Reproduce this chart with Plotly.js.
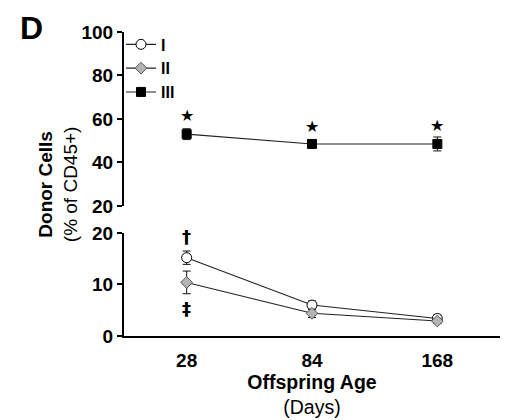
<!DOCTYPE html>
<html>
<head>
<meta charset="utf-8">
<script src="https://cdn.plot.ly/plotly-3.0.1.min.js"></script>
<style>
html,body{margin:0;padding:0;background:#fff;}
#chart{width:508px;height:420px;}
</style>
</head>
<body>
<div id="chart"></div>
<script>
// Data
var ages = ['28', '84', '168'];
var groupNames = ['I', 'II', 'III'];
var groupI = [15.2, 6.0, 3.4];
var groupIErr = [1.3, 0.8, 0.7];
var groupII = [10.4, 4.4, 2.9];
var groupIIErr = [2.2, 0.8, 0.5];
var groupIII = [53.0, 48.5, 48.5];
var groupIIIErr = [2.5, 1.4, 3.2];
// significance marks
var starY = [61.8, 56.3, 57.2];
var daggerY = 19.4;
var ddaggerY = 5.4;

var FONT = 'Liberation Sans, Arial, sans-serif';

function trace(y, err, name, yaxis, marker) {
  return {
    x: ages, y: y, name: name, yaxis: yaxis, type: 'scatter', mode: 'lines+markers',
    line: {color: '#222', width: 1.1},
    marker: marker,
    error_y: {type: 'data', array: err, visible: true, color: '#111', thickness: 1, width: 4},
    cliponaxis: false
  };
}

var data = [
  trace(groupI, groupIErr, groupNames[0], 'y', {symbol: 'circle', size: 10, color: '#fff', line: {color: '#000', width: 1}}),
  trace(groupII, groupIIErr, groupNames[1], 'y', {symbol: 'diamond', size: 9, color: '#b4b4b4', line: {color: '#555', width: 1}}),
  trace(groupIII, groupIIIErr, groupNames[2], 'y2', {symbol: 'square', size: 9, color: '#000', line: {color: '#000', width: 1}})
];

var annotations = [];
ages.forEach(function (a, i) {
  annotations.push({x: i, y: starY[i], xref: 'x', yref: 'y2', text: '★', showarrow: false,
    xanchor: 'center', yanchor: 'middle',
    font: {family: 'DejaVu Sans', size: 16, color: '#000'}});
});
annotations.push({x: 0, y: daggerY, xref: 'x', yref: 'y', text: '<b>†</b>', showarrow: false,
  xanchor: 'center', yanchor: 'middle', font: {family: 'DejaVu Sans', size: 18, color: '#000'}});
annotations.push({x: 0, y: ddaggerY, xref: 'x', yref: 'y', text: '<b>‡</b>', showarrow: false,
  xanchor: 'center', yanchor: 'middle', font: {family: 'DejaVu Sans', size: 18, color: '#000'}});
annotations.push({x: -0.175, y: 0.5, xref: 'paper', yref: 'paper', textangle: -90,
  xanchor: 'center', yanchor: 'middle',
  text: '<b>Donor Cells</b><br>(% of CD45+)', showarrow: false,
  font: {family: FONT, size: 19, color: '#000'}});
annotations.push({x: -0.247, y: 1.013, xref: 'paper', yref: 'paper',
  xanchor: 'center', yanchor: 'middle',
  text: '<b>D</b>', showarrow: false, font: {family: FONT, size: 32, color: '#000'}});

var axisCommon = {
  showline: true, linecolor: '#000', linewidth: 2, showgrid: false, zeroline: false,
  ticks: 'outside', ticklen: 5, tickwidth: 2, tickcolor: '#000',
  tickfont: {family: FONT, size: 19, color: '#000', weight: 'bold'}
};

var layout = {
  width: 508, height: 420,
  margin: {l: 124, r: 8, t: 32, b: 84},
  paper_bgcolor: '#fff', plot_bgcolor: '#fff',
  showlegend: true,
  legend: {x: -0.008, y: 1.015, xanchor: 'left', yanchor: 'top', bgcolor: 'rgba(0,0,0,0)',
    font: {family: FONT, size: 16, color: '#000', weight: 'bold'}, tracegroupgap: 0},
  xaxis: {
    type: 'category', range: [-0.5, 2.5], anchor: 'y',
    showline: true, linecolor: '#000', linewidth: 2, showgrid: false, zeroline: false,
    ticks: 'outside', ticklen: 6, tickcolor: 'rgba(0,0,0,0)',
    tickfont: {family: FONT, size: 19, color: '#000', weight: 'bold'},
    title: {text: '<b>Offspring Age</b><br>(Days)', font: {family: FONT, size: 19.5, color: '#000'}, standoff: 2}
  },
  yaxis: Object.assign({}, axisCommon, {domain: [0, 0.339], range: [0, 20], tickvals: [0, 10, 20], anchor: 'x'}),
  yaxis2: Object.assign({}, axisCommon, {domain: [0.428, 1], range: [20, 100], tickvals: [20, 40, 60, 80, 100], anchor: 'x'}),
  annotations: annotations
};

Plotly.newPlot('chart', data, layout, {displayModeBar: false, staticPlot: true});
</script>
</body>
</html>
